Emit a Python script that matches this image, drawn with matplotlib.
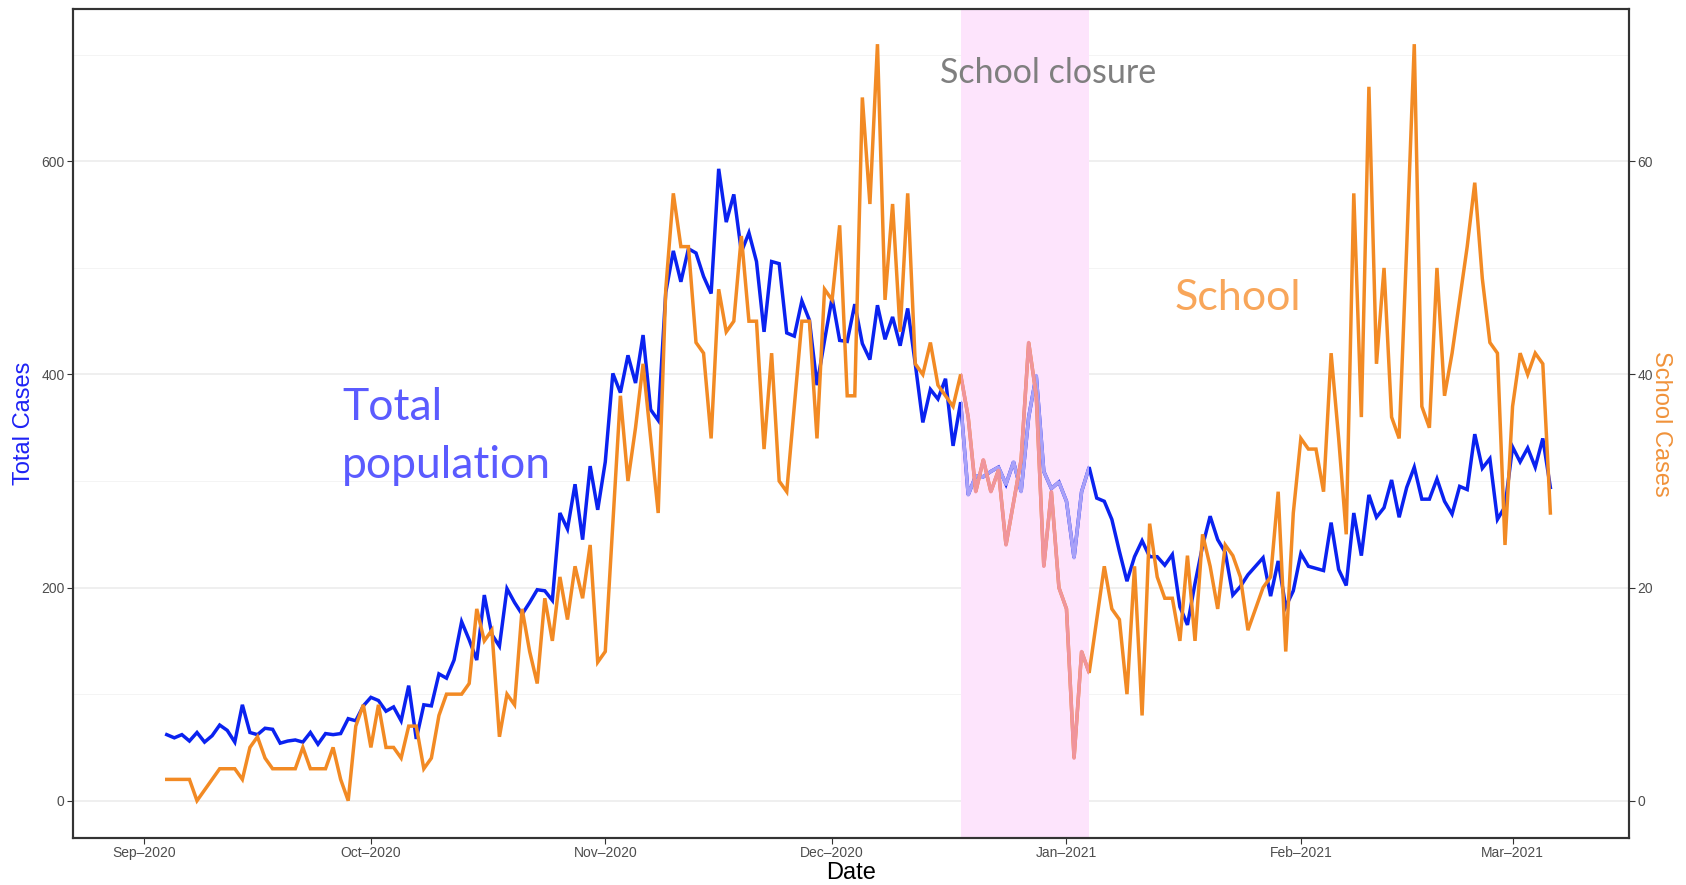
import numpy as np
import pandas as pd
import matplotlib
matplotlib.use('Agg')
import matplotlib.pyplot as plt
import matplotlib.dates as mdates
from matplotlib.patches import Rectangle

# daily series, starting 2020-09-04
start_date = '2020-09-04'
total_cases = [62, 59, 62, 56, 64, 55, 61, 71, 66, 55, 90, 64, 62, 68, 67, 54, 56, 57, 55, 64,
               53, 63, 62, 63, 77, 75, 89, 97, 94, 84, 88, 75, 108, 58,
               90, 89, 119, 115, 132, 168, 151, 132, 193, 156, 145, 199, 186, 175, 186, 198,
               197, 188, 270, 255, 297, 245, 314, 273, 318, 401, 383, 418, 392, 437,
               367, 357, 477, 516, 487, 518, 514, 492, 476, 593, 543, 569, 515, 533, 506, 440,
               506, 504, 439, 436, 469, 451, 390, 432, 472, 432, 431, 466, 429, 414,
               465, 433, 454, 427, 462, 410, 355, 386, 377, 396, 333, 374, 287, 305, 304, 309,
               313, 297, 318, 290, 360, 399, 309, 293, 299, 281, 228, 290, 313, 284,
               281, 264, 234, 206, 229, 244, 229, 229, 221, 231, 182, 165, 204, 239, 267, 245,
               233, 193, 201, 212, 220, 228, 192, 225, 182, 197, 232, 220, 218, 216,
               261, 217, 202, 270, 230, 287, 266, 275, 301, 266, 294, 313, 283, 283, 302, 281,
               269, 295, 292, 344, 312, 321, 264, 276, 332, 318, 331, 313, 340, 294]
school_cases = [2, 2, 2, 2, 0, 1, 2, 3, 3, 3, 2, 5, 6, 4, 3, 3, 3, 3, 5, 3,
                3, 3, 5, 2, 0, 7, 9, 5, 9, 5, 5, 4, 7, 7,
                3, 4, 8, 10, 10, 10, 11, 18, 15, 16, 6, 10, 9, 18, 14, 11,
                19, 15, 21, 17, 22, 19, 24, 13, 14, 26, 38, 30, 35, 41,
                34, 27, 48, 57, 52, 52, 43, 42, 34, 48, 44, 45, 53, 45, 45, 33,
                42, 30, 29, 37, 45, 45, 34, 48, 47, 54, 38, 38, 66, 56,
                71, 47, 56, 44, 57, 41, 40, 43, 39, 38, 37, 40, 36, 29, 32, 29,
                31, 24, 28, 32, 43, 38, 22, 29, 20, 18, 4, 14, 12, 17,
                22, 18, 17, 10, 22, 8, 26, 21, 19, 19, 15, 23, 15, 25, 22, 18,
                24, 23, 21, 16, 18, 20, 21, 29, 14, 27, 34, 33, 33, 29,
                42, 34, 25, 57, 36, 67, 41, 50, 36, 34, 52, 71, 37, 35, 50, 38,
                42, 47, 52, 58, 49, 43, 42, 24, 37, 42, 40, 42, 41, 27]
closure_start = '2020-12-18'
closure_end = '2021-01-04'
month_ticks = ['2020-09-01', '2020-10-01', '2020-11-01', '2020-12-01',
               '2021-01-01', '2021-02-01', '2021-03-01']
month_labels = ['Sep\u20132020', 'Oct\u20132020', 'Nov\u20132020', 'Dec\u20132020',
                'Jan\u20132021', 'Feb\u20132021', 'Mar\u20132021']
left_ticks = [0, 200, 400, 600]
right_ticks = [0, 20, 40, 60]

W, H = 1686, 885
dates = pd.date_range(start_date, periods=len(total_cases), freq='D')

blue = '#0a22f0'
orange = '#f28a24'
blue_light = '#a8a0f8'
orange_light = '#f0949c'
shade = '#fde4fc'
tick_col = '#4d4d4d'
sans = 'Liberation Sans'

fig = plt.figure(figsize=(W / 100, H / 100), dpi=100)
ax = fig.add_axes([73 / W, 1 - 838 / H, (1629 - 73) / W, (838 - 9) / H])
ax2 = ax.twinx()

x0 = pd.Timestamp(start_date) - pd.Timedelta(days=12.4)
x1 = pd.Timestamp(start_date) + pd.Timedelta(days=193.4)
ax.set_xlim(x0, x1)
ax.set_ylim(-35, 743)
ax2.set_ylim(-3.5, 74.3)

# grid (ggplot theme_bw look)
ax.set_axisbelow(True)
ax.set_yticks(left_ticks)
ax.set_yticks([100, 300, 500, 700], minor=True)
ax.grid(axis='y', which='major', color='#ebebeb', lw=1.1)
ax.grid(axis='y', which='minor', color='#f4f4f4', lw=0.7)
ax.tick_params(axis='y', which='minor', length=0)

# closure shading
cs = mdates.date2num(pd.Timestamp(closure_start))
ce = mdates.date2num(pd.Timestamp(closure_end))
ax.axvspan(cs, ce, color=shade, lw=0, zorder=1)

ax.plot(dates, total_cases, color=blue, lw=2.5, zorder=3, solid_joinstyle='miter')
ax2.plot(dates, school_cases, color=orange, lw=2.5, zorder=3, solid_joinstyle='miter')

# lighter colour of the lines inside the closure period
l1, = ax.plot(dates, total_cases, color=blue_light, lw=2.5, zorder=4)
l1.set_clip_path(Rectangle((cs, -1000), ce - cs, 3000, transform=ax.transData))
l2, = ax2.plot(dates, school_cases, color=orange_light, lw=2.5, zorder=4)
l2.set_clip_path(Rectangle((cs, -1000), ce - cs, 3000, transform=ax2.transData))

ax.set_xticks([pd.Timestamp(t) for t in month_ticks])
ax.set_xticklabels(month_labels)
ax2.set_yticks(right_ticks)

for a in (ax, ax2):
    a.tick_params(length=4, width=0.8, color='#333333', labelcolor=tick_col,
                  labelsize=10, pad=2)
    for lab in a.get_xticklabels() + a.get_yticklabels():
        lab.set_fontfamily(sans)
    for s in a.spines.values():
        s.set_color('#333333')
        s.set_linewidth(1.5)

# axis titles
fig.text(24 / W, 1 - 423.5 / H, 'Total Cases', rotation=90, ha='center', va='center',
         color='#1e22f5', fontsize=17, family=sans)
fig.text(1661 / W, 1 - 423.5 / H, 'School Cases', rotation=270, ha='center', va='center',
         color='#f0923a', fontsize=17, family=sans)
fig.text(851 / W, 1 - 873 / H, 'Date', ha='center', va='center',
         color='black', fontsize=17, family=sans)

# annotations
fig.text(342 / W, 1 - 420 / H, 'Total', color='#5b5bff', fontsize=32,
         family='Lato', va='baseline', ha='left')
fig.text(342 / W, 1 - 478 / H, 'population', color='#5b5bff', fontsize=32,
         family='Lato', va='baseline', ha='left')
fig.text(1175 / W, 1 - 310 / H, 'School', color='#f8a65a', fontsize=31,
         family='Lato', va='baseline', ha='left')
fig.text(940 / W, 1 - 83 / H, 'School closure', color='#7f7f7f', fontsize=24.5,
         family='Lato', va='baseline', ha='left')

fig.savefig('out.png', dpi=100)
